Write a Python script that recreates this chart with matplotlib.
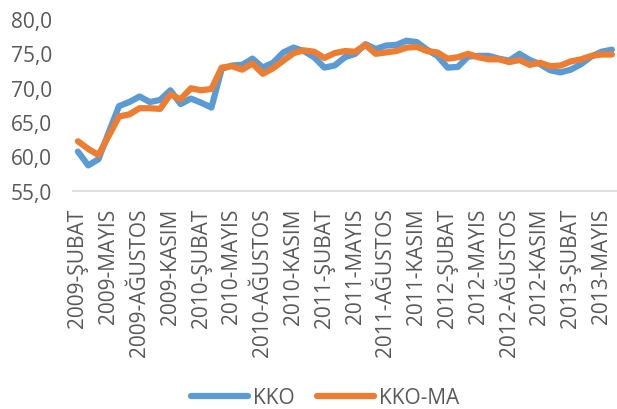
import matplotlib
matplotlib.use("Agg")
import matplotlib.pyplot as plt
from matplotlib.ticker import FuncFormatter, FixedLocator

plt.rcParams['font.family'] = ['Open Sans', 'DejaVu Sans']

months = ["OCAK", "ŞUBAT", "MART", "NİSAN", "MAYIS", "HAZİRAN", "TEMMUZ",
          "AĞUSTOS", "EYLÜL", "EKİM", "KASIM", "ARALIK"]
# Monthly categories: 2009-ŞUBAT ... 2013-HAZİRAN
categories = []
for y in range(2009, 2014):
    for m in months:
        categories.append(f"{y}-{m}")
categories = categories[1:1 + 53]

kko = [60.7, 58.7, 59.6, 63.5, 67.3, 67.9, 68.7, 67.9, 68.2, 69.6,
       67.6, 68.4, 67.8, 67.1, 72.7, 73.2, 73.3, 74.2, 72.9, 73.6,
       75.1, 75.8, 75.3, 74.4, 72.9, 73.2, 74.4, 74.9, 76.3, 75.6,
       76.1, 76.2, 76.8, 76.6, 75.5, 74.6, 72.9, 73.0, 74.5, 74.6,
       74.6, 74.2, 73.9, 74.9, 74.0, 73.4, 72.5, 72.2, 72.6, 73.4,
       74.5, 75.2, 75.5]
kko_ma = [62.2, 61.1, 60.2, 63.0, 65.8, 66.1, 67.0, 67.0, 66.9, 69.0,
          68.3, 69.9, 69.6, 69.8, 72.9, 73.1, 72.6, 73.5, 72.0, 72.8,
          73.9, 75.0, 75.4, 75.2, 74.3, 75.0, 75.3, 75.2, 76.2, 74.9,
          75.1, 75.3, 75.8, 75.9, 75.3, 75.1, 74.2, 74.4, 74.9, 74.4,
          74.1, 74.1, 73.7, 74.0, 73.3, 73.6, 73.1, 73.2, 73.8, 74.1,
          74.6, 74.8, 74.8]
series_names = ["KKO", "KKO-MA"]
y_ticks = [55, 60, 65, 70, 75, 80]

text_color = "#595959"
fs = 15

fig = plt.figure(figsize=(6.17, 4.10), dpi=100)
ax = fig.add_axes([0.118, 0.532, 0.882, 0.42])

x = list(range(len(categories)))
ax.plot(x, kko, color="#5B9BD5", lw=4.5, solid_capstyle="round",
        solid_joinstyle="round", label=series_names[0])
ax.plot(x, kko_ma, color="#ED7D31", lw=4.5, solid_capstyle="round",
        solid_joinstyle="round", label=series_names[1])

ax.set_xlim(-0.5, len(categories) - 0.5)
ax.set_ylim(55, 80)
ax.yaxis.set_major_locator(FixedLocator(y_ticks))
ax.yaxis.set_major_formatter(FuncFormatter(lambda v, p: f"{v:.1f}".replace(".", ",")))

tick_idx = list(range(0, len(categories), 3))
ax.set_xticks(tick_idx)
ax.set_xticklabels([categories[i] for i in tick_idx], rotation=90,
                   fontsize=fs, color=text_color, va="top", ha="center")
ax.tick_params(axis="x", length=0, pad=12)
ax.tick_params(axis="y", length=0, pad=15, labelsize=fs, labelcolor=text_color)

for s in ["top", "right", "left"]:
    ax.spines[s].set_visible(False)
ax.spines["bottom"].set_color("#D9D9D9")
ax.spines["bottom"].set_linewidth(1.2)

leg = fig.legend(loc="center", bbox_to_anchor=(0.527, 0.027), ncol=2,
                 frameon=False, fontsize=fs, handlelength=2.7,
                 handletextpad=0.25, columnspacing=1.1)
for t in leg.get_texts():
    t.set_color(text_color)

fig.savefig("out.png", dpi=100)
